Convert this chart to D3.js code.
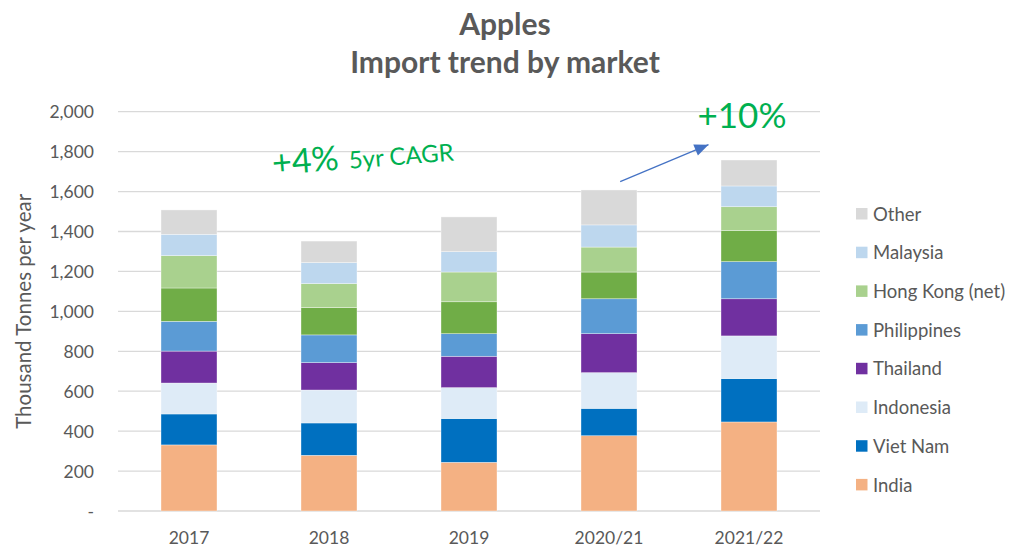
<!DOCTYPE html>
<html>
<head>
<meta charset="utf-8">
<script src="https://cdn.jsdelivr.net/npm/d3@7"></script>
<style>
  html, body { margin: 0; padding: 0; background: #fff; }
  svg { display: block; font-family: Lato, "Open Sans", sans-serif; }
</style>
</head>
<body>
<svg id="chart" width="1010" height="548"></svg>
<script>
// ---- data ----
const years = ["2017", "2018", "2019", "2020/21", "2021/22"];
// stacked from bottom to top
const seriesNames = ["India", "Viet Nam", "Indonesia", "Thailand", "Philippines", "Unlisted", "Hong Kong (net)", "Malaysia", "Other"];
const india       = [331, 279, 244, 377, 446];
const vietNam     = [155, 162, 219, 137, 217];
const indonesia   = [155, 165, 155, 179, 214];
const thailand    = [160, 137, 157, 195, 186];
const philippines = [149, 139, 113, 175, 186];
const unlisted    = [167, 137, 160, 134, 155];
const hongKong    = [162, 120, 149, 125, 120];
const malaysia    = [107, 105, 102, 111, 104];
const other       = [122, 108, 174, 175, 130];
const legendNames = ["Other", "Malaysia", "Hong Kong (net)", "Philippines", "Thailand", "Indonesia", "Viet Nam", "India"];
const yTicks = [0, 200, 400, 600, 800, 1000, 1200, 1400, 1600, 1800, 2000];
const titleLines = ["Apples", "Import trend by market"];
const yAxisTitle = "Thousand Tonnes per year";
const cagrValue = "+4%";
const cagrLabel = "5yr CAGR";
const growthLabel = "+10%";
const arrowFrom = ["2020/21", 1650];
const arrowTo = ["2021/22", 1835];

const seriesValues = [india, vietNam, indonesia, thailand, philippines, unlisted, hongKong, malaysia, other];
const colors = {
  "India": "#F4B183", "Viet Nam": "#0070C0", "Indonesia": "#DEEBF7", "Thailand": "#7030A0",
  "Philippines": "#5B9BD5", "Unlisted": "#70AD47", "Hong Kong (net)": "#A9D18E",
  "Malaysia": "#BDD7EE", "Other": "#D9D9D9"
};

const rows = years.map((y, i) => {
  const r = { year: y };
  seriesNames.forEach((s, j) => r[s] = seriesValues[j][i]);
  return r;
});

// ---- layout ----
const svg = d3.select("#chart");
const x = d3.scaleBand().domain(years).range([119, 819]).paddingInner(0.6).paddingOuter(0.3);
const y = d3.scaleLinear().domain([0, 2000]).range([511, 111.7]);
const textGrey = "#595959";

// gridlines
svg.append("g").selectAll("line").data(yTicks).join("line")
  .attr("x1", 118).attr("x2", 820)
  .attr("y1", d => y(d)).attr("y2", d => y(d))
  .attr("stroke", "#D9D9D9").attr("stroke-width", 1.3);

// y axis labels
const yAxis = d3.axisLeft(y).tickValues(yTicks).tickSize(0).tickPadding(0)
  .tickFormat(d => d === 0 ? "-" : d3.format(",")(d));
const yg = svg.append("g").attr("transform", "translate(94,0)").call(yAxis);
yg.select(".domain").remove();
yg.selectAll("text").attr("fill", textGrey).style("font-size", "17.5px")
  .style("font-family", "Lato, sans-serif").attr("dy", "0.35em");

// x axis labels
const xAxis = d3.axisBottom(x).tickSize(0).tickPadding(0);
const xg = svg.append("g").attr("transform", "translate(0,538)").call(xAxis);
xg.select(".domain").remove();
xg.selectAll("text").attr("fill", textGrey).style("font-size", "17.5px")
  .style("font-family", "Lato, sans-serif").attr("dy", "0.35em");

// bars
const stack = d3.stack().keys(seriesNames)(rows);
svg.append("g").selectAll("g").data(stack).join("g")
  .attr("fill", d => colors[d.key])
  .selectAll("rect").data(d => d).join("rect")
  .attr("x", d => x(d.data.year))
  .attr("width", x.bandwidth())
  .attr("y", d => y(d[1]))
  .attr("height", d => y(d[0]) - y(d[1]))
  .attr("stroke", "#ffffff").attr("stroke-width", 0.6).attr("stroke-opacity", 0.6);

// title
svg.append("g").selectAll("text").data(titleLines).join("text")
  .attr("x", 505).attr("y", (d, i) => 35 + i * 38)
  .attr("text-anchor", "middle").attr("fill", textGrey)
  .style("font-size", "30px").style("font-weight", "bold")
  .text(d => d);

// y axis title
svg.append("text")
  .attr("transform", `translate(31,${(y(0) + y(2000)) / 2}) rotate(-90)`)
  .attr("text-anchor", "middle").attr("fill", textGrey)
  .style("font-size", "20.5px").text(yAxisTitle);

// legend
const lg = svg.append("g").selectAll("g").data(legendNames).join("g")
  .attr("transform", (d, i) => `translate(856,${214 + i * 38.7})`);
lg.append("rect").attr("x", 0).attr("y", -6).attr("width", 11.5).attr("height", 11.5)
  .attr("fill", d => colors[d]);
lg.append("text").attr("x", 17).attr("y", 0).attr("dy", "0.36em")
  .attr("fill", textGrey).style("font-size", "18.5px").text(d => d);

// CAGR annotation
const green = "#00B050";
const cagr = svg.append("text").attr("transform", "translate(273,175) rotate(-4.6)")
  .attr("fill", green);
cagr.append("tspan").style("font-size", "34px").text(cagrValue);
cagr.append("tspan").attr("dx", 10).style("font-size", "24px").text(cagrLabel);

// +10% annotation
svg.append("text").attr("x", 742).attr("y", 128).attr("text-anchor", "middle")
  .attr("fill", green).style("font-size", "35px").text(growthLabel);

// arrow
const ax1 = x(arrowFrom[0]) + x.bandwidth() * 0.7, ay1 = y(arrowFrom[1]);
const ax2 = x(arrowTo[0]) - 12.5, ay2 = y(arrowTo[1]);
svg.append("line").attr("x1", ax1).attr("y1", ay1).attr("x2", ax2).attr("y2", ay2)
  .attr("stroke", "#4472C4").attr("stroke-width", 1.2);
svg.append("path")
  .attr("d", () => {
    const ang = Math.atan2(ay2 - ay1, ax2 - ax1);
    const L = 14, W = 6;
    const bx = ax2 - L * Math.cos(ang), by = ay2 - L * Math.sin(ang);
    const px = -Math.sin(ang) * W, py = Math.cos(ang) * W;
    return `M${ax2},${ay2} L${bx + px},${by + py} L${bx - px},${by - py} Z`;
  })
  .attr("fill", "#4472C4");
</script>
</body>
</html>
